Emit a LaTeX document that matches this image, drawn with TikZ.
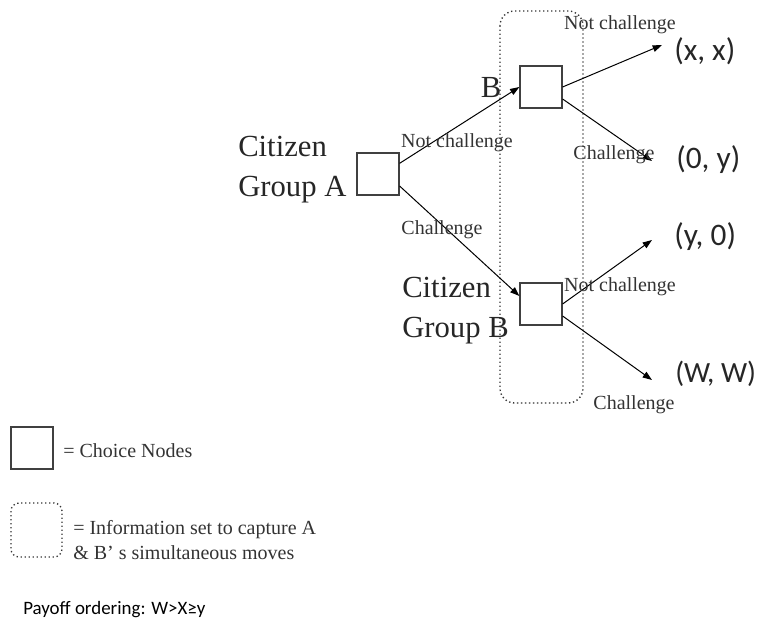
\documentclass[tikz,border=0pt]{standalone}
\usepackage{fontspec}
\setmainfont{Liberation Serif}
\newfontfamily\notefont{Carlito}
\usetikzlibrary{arrows.meta}

\begin{document}
\begin{tikzpicture}[x=0.75pt,y=-0.75pt,
    choice/.style={draw=black!75,line width=0.9pt,minimum size=31.5pt,inner sep=0pt},
    move/.style={-{Triangle[length=7pt,width=5pt]},line width=0.75pt},
    infoset/.style={draw=black!80,dotted,line width=1pt,rounded corners=11pt},
    small/.style={font=\fontsize{15}{17}\selectfont,text=black!80,inner sep=0pt},
    big/.style={font=\fontsize{23}{30}\selectfont,text=black!85,inner sep=0pt,align=left},
    payoff/.style={font=\notefont\fontsize{23.5}{26}\selectfont,text=black!85,inner sep=0pt,anchor=west}]
  \useasboundingbox (0,0) rectangle (758,624);
  % information set
  \draw[infoset] (500,11) rectangle (583,403);
  % choice nodes
  \node[choice] (a) at (378,174) {};
  \node[choice] (b1) at (541,87) {};
  \node[choice] (b2) at (541,304) {};
  % payoffs
  \foreach \n/\x/\y/\t in {1/674/51/{(x, x)},2/676/160/{(0, y)},3/674/237/{(y, 0)}}
    \node[payoff] (p\n) at (\x,\y) {\t};
  \node[payoff,font=\notefont\fontsize{22}{26}\selectfont] (p4) at (675,374) {(W, W)};
  \coordinate (e1) at (662,45);
  \coordinate (e2) at (652,161);
  \coordinate (e3) at (652,240);
  \coordinate (e4) at (652,380);
  % moves
  \draw[move] ([yshift=8pt]a.east) -- (b1.west);
  \draw[move] ([yshift=-9pt]a.east) -- ([yshift=6pt]b2.west);
  \draw[move] (b1.east) -- (e1);
  \draw[move] ([yshift=-9pt]b1.east) -- (e2);
  \draw[move] (b2.east) -- (e3);
  \draw[move] ([yshift=-9pt]b2.east) -- (e4);
  % labels
  \node[big,anchor=west] (ca) at (238,170) {Citizen\\Group A};
  \node[big] (lb) at (491,88) {B};
  \node[big,anchor=west] (cb) at (402,311) {Citizen\\Group B};
  \node[small] (n1) at (620,25) {Not challenge};
  \node[small] (n2) at (457,143) {Not challenge};
  \node[small] (c1) at (614,155) {Challenge};
  \node[small] (c2) at (442,230) {Challenge};
  \node[small] (n3) at (620,287) {Not challenge};
  \node[small] (c3) at (634,405) {Challenge};
  % legend
  \node[choice] (key1) at (32,448) {};
  \node[small,anchor=west] (t1) at (63,451) {= Choice Nodes};
  \draw[infoset,rounded corners=6pt] (11,503) rectangle (62,557);
  \node[small,anchor=west,align=left,font=\fontsize{15}{19}\selectfont] (t2) at (73,540)
    {= Information set to capture A\\\& B’ s simultaneous moves};
  \node[anchor=west,inner sep=0pt,font=\notefont\fontsize{14.2}{16}\selectfont] (t3) at (23,610)
    {Payoff ordering: W>X≥y};
\end{tikzpicture}
\end{document}
